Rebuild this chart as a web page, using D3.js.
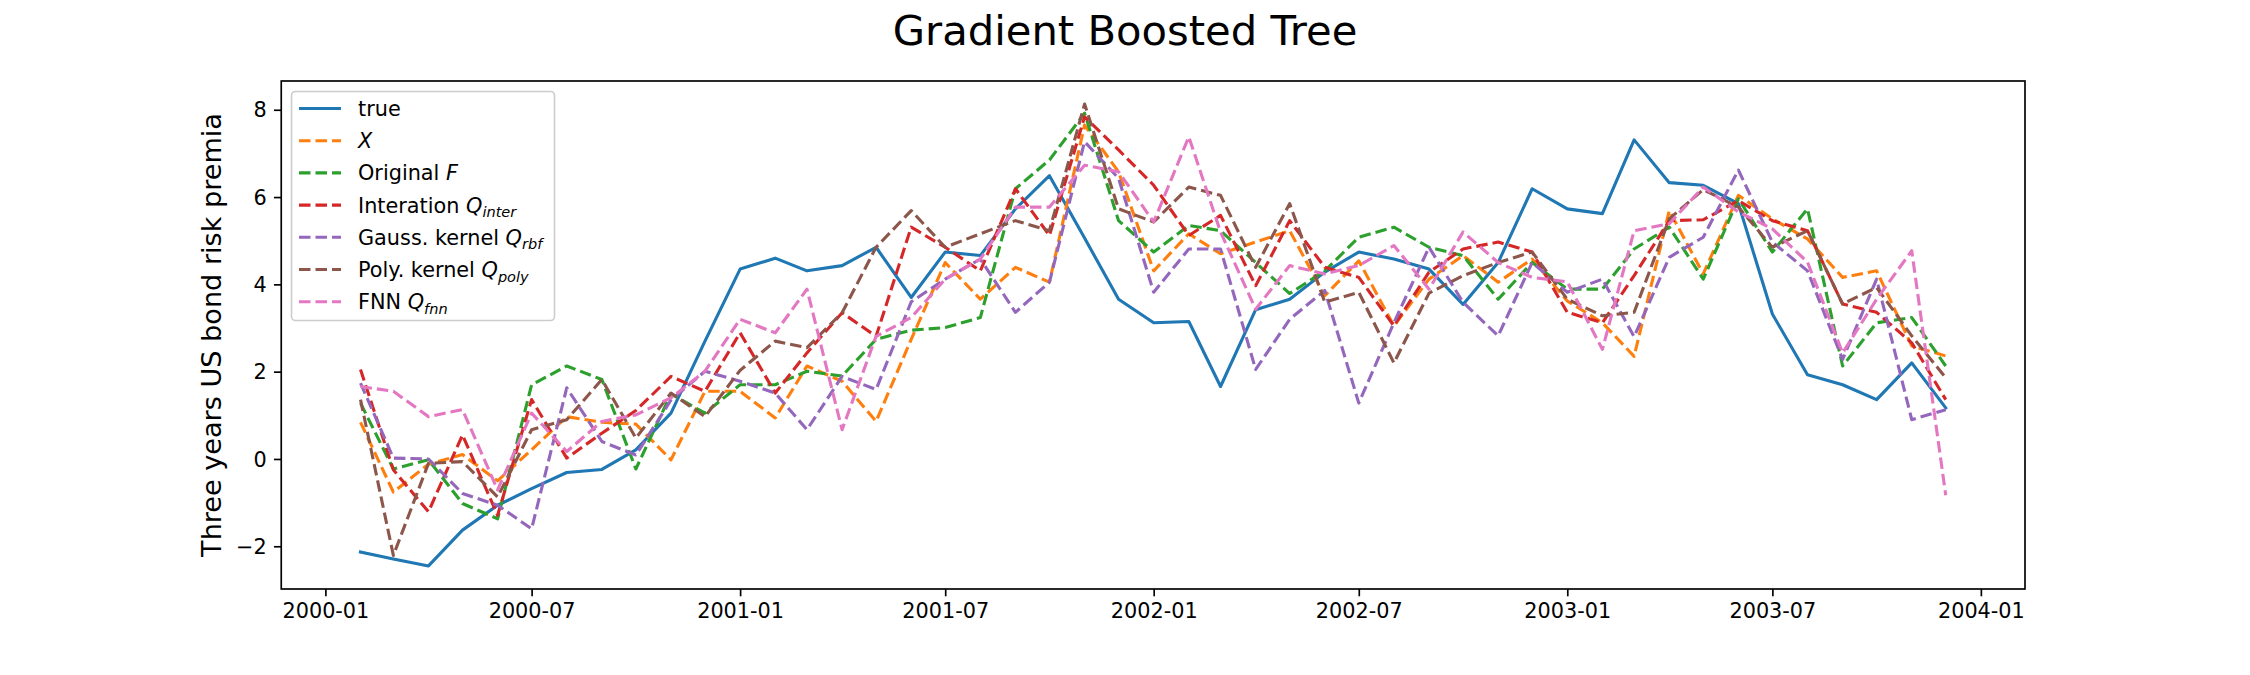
<!DOCTYPE html>
<html><head><meta charset="utf-8">
<script src="https://cdn.jsdelivr.net/npm/d3@7"></script>
<style>
html,body{margin:0;padding:0;background:#fff;}
svg{display:block;font-family:"DejaVu Sans",sans-serif;}
</style></head><body>
<svg id="chart" width="2250" height="675"></svg>
<script>
const months = [
 "2000-02","2000-03","2000-04","2000-05","2000-06","2000-07","2000-08","2000-09","2000-10","2000-11","2000-12",
 "2001-01","2001-02","2001-03","2001-04","2001-05","2001-06","2001-07","2001-08","2001-09","2001-10","2001-11","2001-12",
 "2002-01","2002-02","2002-03","2002-04","2002-05","2002-06","2002-07","2002-08","2002-09","2002-10","2002-11","2002-12",
 "2003-01","2003-02","2003-03","2003-04","2003-05","2003-06","2003-07","2003-08","2003-09","2003-10","2003-11","2003-12"];

const trueVals = [-2.13,-2.29,-2.45,-1.63,-1.06,-0.68,-0.31,-0.24,0.21,1.05,2.70,
 4.35,4.60,4.31,4.43,4.85,3.70,4.74,4.66,5.73,6.49,5.06,3.66,
 3.12,3.15,1.66,3.42,3.66,4.28,4.74,4.58,4.35,3.54,4.50,6.19,
 5.73,5.62,7.31,6.33,6.27,5.85,3.32,1.93,1.70,1.36,2.20,1.17];
const xVals = [0.84,-0.76,-0.12,0.10,-0.50,0.21,0.97,0.84,0.80,-0.02,1.55,
 1.55,0.94,2.13,1.78,0.86,2.74,4.50,3.66,4.39,4.05,7.65,6.58,
 4.31,5.16,4.70,4.97,5.23,3.74,4.54,3.05,4.12,4.66,4.05,4.58,
 3.62,3.12,2.35,5.69,4.24,6.04,5.50,5.04,4.16,4.31,2.59,2.36];
const fVals = [1.28,-0.23,-0.02,-1.02,-1.37,1.70,2.13,1.82,-0.23,1.49,1.05,
 1.70,1.70,2.01,1.90,2.74,2.95,3.01,3.24,6.19,6.85,7.92,5.46,
 4.74,5.35,5.23,4.50,3.79,4.31,5.08,5.31,4.85,4.66,3.66,4.50,
 3.89,3.89,4.81,5.31,4.12,5.96,4.74,5.73,2.13,3.12,3.24,2.13];
const interVals = [2.05,-0.25,-1.21,0.55,-1.29,1.36,0.02,0.59,1.11,1.89,1.55,
 2.89,1.51,2.43,3.35,2.81,5.31,4.85,4.31,6.19,5.12,7.84,7.08,
 6.27,5.12,5.58,3.97,5.46,4.39,4.16,3.05,4.28,4.81,4.97,4.74,
 3.36,3.12,4.20,5.46,5.48,5.92,5.46,5.23,3.55,3.36,2.66,1.36];
const rbfVals = [1.74,0.02,0.00,-0.79,-1.06,-1.60,1.63,0.40,0.09,1.35,2.01,
 1.78,1.51,0.67,1.89,1.59,3.60,4.12,4.58,3.36,4.05,7.27,6.43,
 3.82,4.81,4.81,2.05,3.20,3.86,1.28,3.12,4.85,3.59,2.82,4.50,
 3.82,4.12,2.80,4.62,5.08,6.62,4.97,4.31,2.28,4.12,0.90,1.13];
const polyVals = [1.36,-2.21,-0.10,-0.06,-0.87,0.67,0.90,1.82,0.48,1.51,0.97,
 2.03,2.70,2.55,3.35,4.85,5.69,4.85,5.16,5.46,5.23,8.13,5.73,
 5.43,6.23,6.04,4.39,5.85,3.59,3.82,2.20,3.80,4.20,4.50,4.74,
 3.66,3.28,3.36,5.50,6.17,5.77,4.85,5.23,3.55,3.93,2.82,1.86];
const fnnVals = [1.66,1.55,0.97,1.13,-0.71,1.05,0.17,0.86,1.01,1.40,2.01,
 3.20,2.89,3.89,0.67,2.81,3.24,4.12,4.58,5.77,5.77,6.73,6.58,
 5.43,7.38,5.20,3.43,4.43,4.24,4.43,4.89,3.89,5.20,4.50,4.16,
 4.06,2.51,5.23,5.39,6.23,5.66,5.27,4.51,2.43,3.66,4.77,-0.83];

const seriesColors = ["#1f77b4","#ff7f0e","#2ca02c","#d62728","#9467bd","#8c564b","#e377c2"];
const xTickLabels = ["2000-01","2000-07","2001-01","2001-07","2002-01","2002-07","2003-01","2003-07","2004-01"];
const yTickValues = [-2,0,2,4,6,8];
const legendLabels = [
  [{t:"true"}],
  [{t:"X",i:1}],
  [{t:"Original "},{t:"F",i:1}],
  [{t:"Interation "},{t:"Q",i:1},{t:"inter",i:1,s:1}],
  [{t:"Gauss. kernel "},{t:"Q",i:1},{t:"rbf",i:1,s:1}],
  [{t:"Poly. kernel "},{t:"Q",i:1},{t:"poly",i:1,s:1}],
  [{t:"FNN "},{t:"Q",i:1},{t:"fnn",i:1,s:1}]
];
const titleText = "Gradient Boosted Tree";
const yLabelText = "Three years US bond risk premia";

const allSeries = [trueVals,xVals,fVals,interVals,rbfVals,polyVals,fnnVals];

const W = 2250, H = 675;
const L = 281.25, R = 2025, T = 81, B = 589;
const parse = d3.timeParse("%Y-%m");
const dates = months.map(parse);

const dExt = d3.extent(dates);
const dSpan = dExt[1] - dExt[0];
const x = d3.scaleTime()
  .domain([new Date(+dExt[0] - 0.05*dSpan), new Date(+dExt[1] + 0.05*dSpan)])
  .range([L, R]);
const allVals = allSeries.flat();
const vExt = d3.extent(allVals);
const vSpan = vExt[1]-vExt[0];
const y = d3.scaleLinear().domain([vExt[0]-0.05*vSpan, vExt[1]+0.05*vSpan]).range([B, T]);

const svg = d3.select("#chart");
svg.append("rect").attr("width",W).attr("height",H).attr("fill","#fff");

const clipId = "plotclip";
svg.append("clipPath").attr("id",clipId).append("rect")
  .attr("x",L).attr("y",T).attr("width",R-L).attr("height",B-T);

const line = d3.line().x((d,i)=>x(dates[i])).y(d=>y(d));
const g = svg.append("g").attr("clip-path",`url(#${clipId})`);
allSeries.forEach((s,k)=>{
  g.append("path").datum(s).attr("d",line)
   .attr("fill","none").attr("stroke",seriesColors[k])
   .attr("stroke-width",3.1)
   .attr("stroke-linejoin","round").attr("stroke-linecap", k===0?"square":"butt")
   .attr("stroke-dasharray", k===0?null:"11.5,5");
});

// axes
const fs = 20.8;
const xTicks = xTickLabels.map(parse);
const xAxis = d3.axisBottom(x).tickValues(xTicks).tickFormat(d3.timeFormat("%Y-%m"))
  .tickSize(7.3).tickPadding(7.3);
const gx = svg.append("g").attr("transform",`translate(0,${B})`).call(xAxis);
const yAxis = d3.axisLeft(y).tickValues(yTickValues).tickFormat(d=>d<0?"\u2212"+Math.abs(d):d)
  .tickSize(7.3).tickPadding(7.3);
const gy = svg.append("g").attr("transform",`translate(${L},0)`).call(yAxis);
[gx,gy].forEach(a=>{
  a.select(".domain").remove();
  a.selectAll(".tick line").attr("stroke","#000").attr("stroke-width",1.67);
  a.selectAll(".tick text").attr("font-size",fs).attr("font-family","DejaVu Sans").attr("fill","#000");
});
gy.selectAll(".tick text").attr("dy","0.34em");

svg.append("rect").attr("x",L).attr("y",T).attr("width",R-L).attr("height",B-T)
  .attr("fill","none").attr("stroke","#000").attr("stroke-width",1.67);

// title (centred on the figure)
svg.append("text").attr("x",W/2).attr("y",45).attr("text-anchor","middle")
  .attr("font-size",41.7).attr("fill","#000").text(titleText);

// y label
svg.append("text").attr("transform",`translate(221,${(T+B)/2}) rotate(-90)`)
  .attr("text-anchor","middle").attr("font-size",27.1).attr("fill","#000").text(yLabelText);

// legend
const lg = svg.append("g");
lg.append("rect").attr("x",291.5).attr("y",91.5).attr("width",263).attr("height",229)
  .attr("rx",4).attr("fill","#fff").attr("fill-opacity",0.8)
  .attr("stroke","#cccccc").attr("stroke-width",1.6);
const rowY0 = 108.5, rowH = 32.2;
legendLabels.forEach((parts,k)=>{
  const cy = rowY0 + k*rowH;
  lg.append("line").attr("x1",299).attr("x2",341).attr("y1",cy).attr("y2",cy)
    .attr("stroke",seriesColors[k]).attr("stroke-width",3.1)
    .attr("stroke-dasharray",k===0?null:"11.5,5");
  const t = lg.append("text").attr("x",358).attr("y",cy+7.5).attr("font-size",fs).attr("fill","#000");
  parts.forEach(p=>{
    const ts = t.append("tspan").text(p.t);
    if(p.i) ts.attr("font-style","italic");
    if(p.s) ts.attr("font-size",fs*0.7).attr("dy",4.5);
  });
});
</script></body></html>
